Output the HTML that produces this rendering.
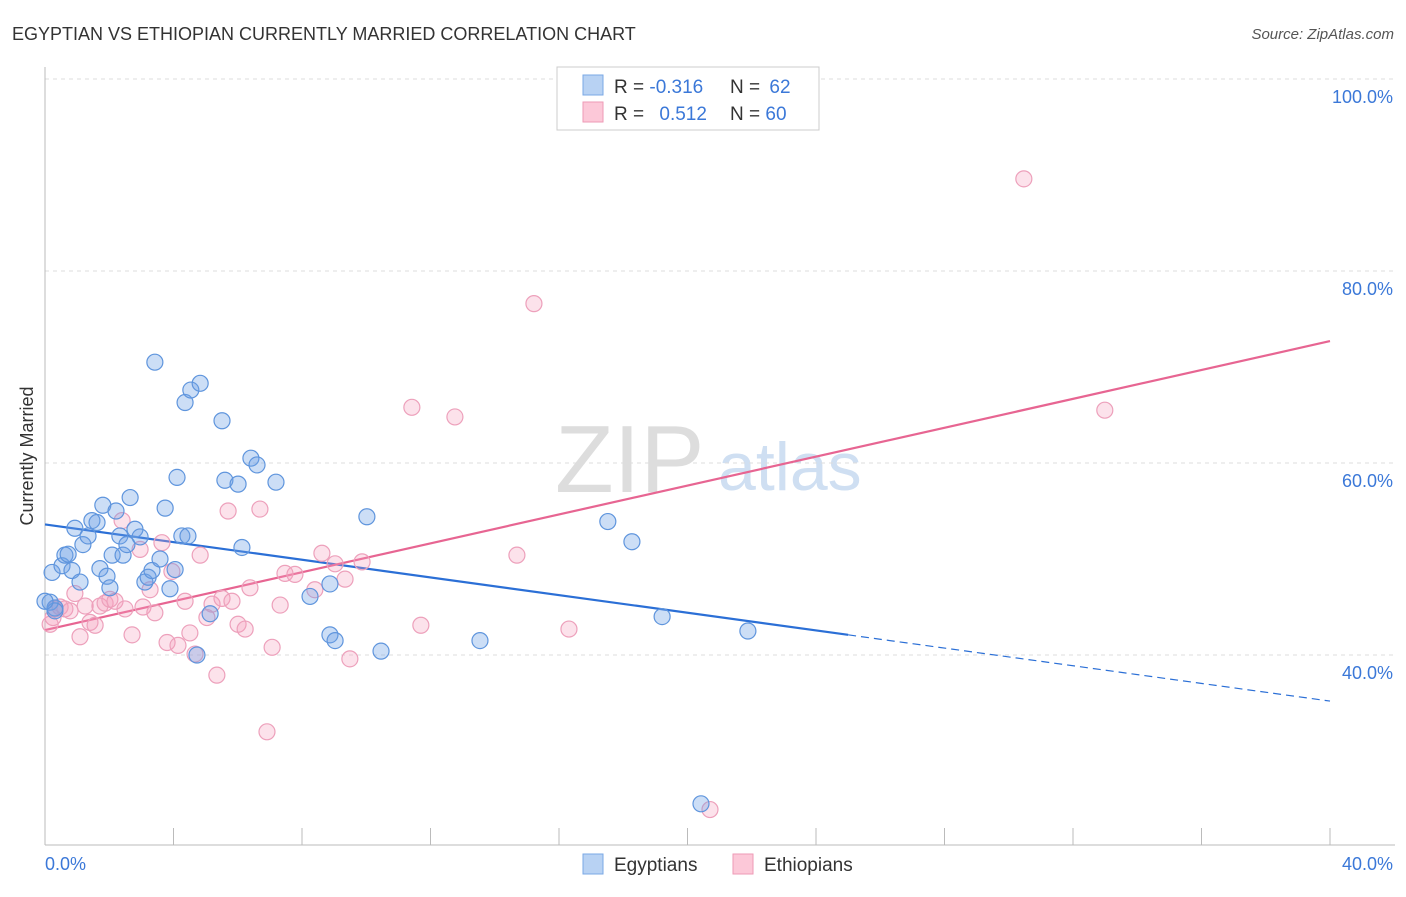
<!DOCTYPE html>
<html><head><meta charset="utf-8"><style>
body{margin:0;background:#fff;font-family:"Liberation Sans",sans-serif;}
svg text{font-family:"Liberation Sans",sans-serif;}
</style></head><body>
<svg id="chart" width="1406" height="892" xmlns="http://www.w3.org/2000/svg">
<text x="12" y="40" font-size="18" fill="#333">EGYPTIAN VS ETHIOPIAN CURRENTLY MARRIED CORRELATION CHART</text>
<text x="1394" y="39" font-size="15" fill="#555" font-style="italic" text-anchor="end">Source: ZipAtlas.com</text>
<text x="555" y="492" font-size="96" fill="#ddd" font-family="Liberation Serif">ZIP</text>
<text x="718" y="490" font-size="68" fill="#cfdff2">atlas</text>
<g id="grid"></g>
<line x1="45" y1="67" x2="45" y2="845" stroke="#bbb"/>
<line x1="45" y1="845" x2="1395" y2="845" stroke="#bbb"/>
<text transform="translate(33,456) rotate(-90)" font-size="18" fill="#333" text-anchor="middle">Currently Married</text>
<text x="45" y="870" font-size="18" fill="#3b78d8">0.0%</text>
<text x="1393" y="870" font-size="18" fill="#3b78d8" text-anchor="end">40.0%</text>
<g id="trend"></g>
<g id="pts"></g>
<g>
<rect x="557" y="67" width="262" height="63" fill="#fff" stroke="#ccc"/>
<rect x="583" y="75" width="20" height="20" fill="#b8d2f3" stroke="#7aa8e6"/>
<rect x="583" y="102" width="20" height="20" fill="#fcc8d8" stroke="#ee9ab6"/>
<text x="614" y="93" font-size="19" fill="#333">R = <tspan fill="#3b78d8">-0.316</tspan></text>
<text x="730" y="93" font-size="19" fill="#333">N = <tspan fill="#3b78d8" dx="4">62</tspan></text>
<text x="614" y="120" font-size="19" fill="#333">R = <tspan fill="#3b78d8" dx="10">0.512</tspan></text>
<text x="730" y="120" font-size="19" fill="#333">N = <tspan fill="#3b78d8">60</tspan></text>
</g>
<g>
<rect x="583" y="854" width="20" height="20" fill="#b8d2f3" stroke="#7aa8e6"/>
<text x="614" y="871" font-size="19" fill="#333">Egyptians</text>
<rect x="733" y="854" width="20" height="20" fill="#fcc8d8" stroke="#ee9ab6"/>
<text x="764" y="871" font-size="19" fill="#333">Ethiopians</text>
</g>
</svg>
<script>
const yTicks=[40,60,80,100];
const yTickLabels=["40.0%","60.0%","80.0%","100.0%"];
const xTicks=[0,4,8,12,16,20,24,28,32,36,40];
const blueX=[0.22,0.16,0.31,0.53,0.62,0.72,0.84,0.93,1.09,1.18,1.34,1.46,1.62,1.71,1.80,1.93,2.09,2.21,2.33,2.43,2.55,2.65,2.80,2.96,3.11,3.21,3.33,3.42,3.58,3.74,3.89,4.05,4.11,4.26,4.36,4.45,4.54,4.73,4.83,5.14,5.51,5.60,6.01,6.13,6.41,6.60,7.19,8.25,8.87,8.87,9.03,10.02,10.46,13.54,17.52,18.27,19.21,20.42,21.88,0.31,0.0,2.02];
const blueY=[48.6,45.5,44.9,49.3,50.4,50.5,48.8,53.2,47.6,51.5,52.4,54.0,53.8,49.0,55.6,48.2,50.4,55.0,52.4,50.4,51.5,56.4,53.1,52.3,47.6,48.1,48.8,70.5,50.0,55.3,46.9,48.9,58.5,52.4,66.3,52.4,67.6,40.0,68.3,44.3,64.4,58.2,57.8,51.2,60.5,59.8,58.0,46.1,47.4,42.1,41.5,54.4,40.4,41.5,53.9,51.8,44.0,24.5,42.5,44.6,45.6,47.0];
const pinkX=[0.16,0.31,0.47,0.62,0.78,0.93,1.09,1.25,1.40,1.56,1.71,1.87,2.02,2.18,2.40,2.49,2.71,2.96,3.05,3.27,3.42,3.64,3.80,3.95,4.14,4.36,4.51,4.67,4.83,5.04,5.20,5.35,5.51,5.70,5.82,6.01,6.23,6.38,6.69,6.91,7.07,7.32,7.47,7.78,8.40,8.62,9.03,9.34,9.49,9.87,11.42,11.70,12.76,14.69,15.22,16.31,20.70,30.47,32.99,0.25];
const pinkY=[43.2,44.8,45.0,44.8,44.6,46.4,41.9,45.1,43.4,43.1,45.1,45.4,45.8,45.6,54.0,44.8,42.1,51.0,45.0,46.8,44.4,51.7,41.3,48.7,41.0,45.6,42.3,40.1,50.4,43.9,45.3,37.9,45.9,55.0,45.6,43.2,42.7,47.0,55.2,32.0,40.8,45.2,48.5,48.4,46.8,50.6,49.5,47.9,39.6,49.7,65.8,43.1,64.8,50.4,76.6,42.7,23.9,89.6,65.5,43.9];
const blueFit=[53.6,42.1];
const blueFitEnd=[25,40];
const pinkFit=[42.6,72.7];
const X=v=>45+v*32.125, Y=v=>655-(v-40)*9.6;
const NS="http://www.w3.org/2000/svg";
function mk(t,a,p){const e=document.createElementNS(NS,t);for(const k in a)e.setAttribute(k,a[k]);p.appendChild(e);return e;}
const grid=document.getElementById('grid');
yTicks.forEach((t,i)=>{
 const l=mk('line',{x1:45,x2:1395,y1:Y(t),y2:Y(t),stroke:'#ddd','stroke-dasharray':'4,4'},grid);
 
 
 const tx=mk('text',{x:1393,y:Y(t)+24,'font-size':18,fill:'#3b78d8','text-anchor':'end'},grid);
 tx.textContent=yTickLabels[i];
 
 
});
xTicks.forEach(t=>{
 const l=mk('line',{x1:X(t),x2:X(t),y1:828,y2:845,stroke:'#bbb'},grid);
 
 
});
const tr=document.getElementById('trend');
const bl=mk('line',{x1:X(0),y1:Y(blueFit[0]),x2:X(blueFitEnd[0]),y2:Y(blueFit[1]),stroke:'#2b6fd6','stroke-width':2.2},tr);


const slope=(blueFit[1]-blueFit[0])/blueFitEnd[0];
const bd=mk('line',{x1:X(blueFitEnd[0]),y1:Y(blueFit[1]),x2:X(blueFitEnd[1]),y2:Y(blueFit[0]+slope*blueFitEnd[1]),stroke:'#2b6fd6','stroke-width':1.2,'stroke-dasharray':'8,5'},tr);


const pl=mk('line',{x1:X(0),y1:Y(pinkFit[0]),x2:X(40),y2:Y(pinkFit[1]),stroke:'#e76592','stroke-width':2.2},tr);


const pts=document.getElementById('pts');
pinkX.forEach((x,i)=>{
 const c=mk('circle',{cx:X(x),cy:Y(pinkY[i]),r:8,fill:'rgba(245,160,190,0.3)',stroke:'#eda0bb','stroke-width':1.2},pts);
 
 
});
blueX.forEach((x,i)=>{
 const c=mk('circle',{cx:X(x),cy:Y(blueY[i]),r:8,fill:'rgba(110,160,230,0.35)',stroke:'#5f95dd','stroke-width':1.2},pts);
 
 
});
</script>
</body></html>
